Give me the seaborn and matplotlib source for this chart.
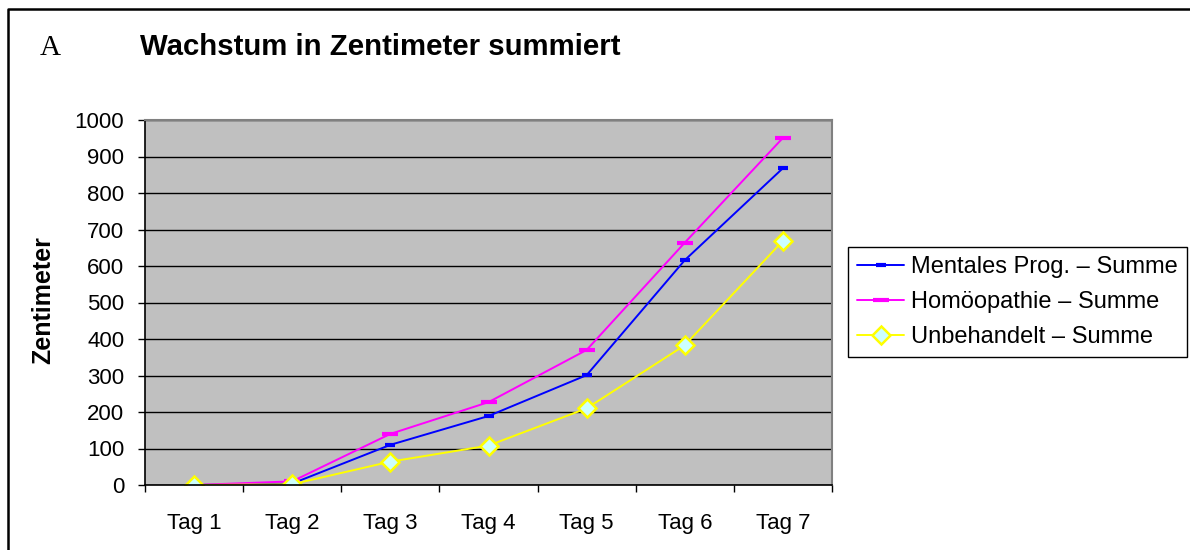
import matplotlib
matplotlib.use("Agg")
import matplotlib.pyplot as plt
import seaborn as sns
import pandas as pd
from matplotlib.lines import Line2D
from matplotlib.ticker import FixedLocator, NullFormatter, FixedFormatter

# ---- data ----
categories = ["Tag 1", "Tag 2", "Tag 3", "Tag 4", "Tag 5", "Tag 6", "Tag 7"]
mentales = [0, 4, 110, 189, 301, 616, 868]
homoeopathie = [0, 10, 140, 227, 370, 664, 951]
unbehandelt = [0, 2, 64, 108, 210, 383, 669]
series_names = ["Mentales Prog. – Summe", "Homöopathie – Summe", "Unbehandelt – Summe"]
y_ticks = list(range(0, 1001, 100))

sns.set_style("white")
plt.rcParams['font.family'] = ['Liberation Sans', 'DejaVu Sans']
plt.rcParams['text.color'] = 'black'
plt.rcParams['axes.labelcolor'] = 'black'
plt.rcParams['xtick.color'] = 'black'
plt.rcParams['ytick.color'] = 'black'

fig = plt.figure(figsize=(11.9, 5.5), dpi=100)
ax = fig.add_axes([145 / 1190, 1 - 485 / 550, 687 / 1190, 365 / 550])
ax.set_facecolor('#C0C0C0')

rows = []
for name, vals in zip(series_names, [mentales, homoeopathie, unbehandelt]):
    for i, v in enumerate(vals):
        rows.append({"pos": i, "value": v, "series": name})
df = pd.DataFrame(rows)

styles = {
    series_names[0]: dict(color='#0000FF', marker='_', markersize=7, markeredgewidth=3,
                          markeredgecolor='#0000FF'),
    series_names[1]: dict(color='#FF00FF', marker='_', markersize=11, markeredgewidth=3,
                          markeredgecolor='#FF00FF'),
    series_names[2]: dict(color='#FFFF00', marker='D', markersize=9, markeredgewidth=1.8,
                          markeredgecolor='#FFFF00', markerfacecolor='#CCFFFF'),
}
for name in series_names:
    sub = df[df["series"] == name]
    sns.lineplot(data=sub, x="pos", y="value", ax=ax, label=name, linewidth=1.4,
                 errorbar=None, **styles[name])

# axes
ax.set_xlim(-0.5, 6.5)
ax.set_ylim(0, 1000)
ax.set_yticks(y_ticks)
ax.yaxis.grid(True, color='black', linewidth=1)
ax.xaxis.grid(False)
ax.set_axisbelow(True)

ax.xaxis.set_major_locator(FixedLocator([i - 0.5 for i in range(8)]))
ax.xaxis.set_major_formatter(NullFormatter())
ax.xaxis.set_minor_locator(FixedLocator(list(range(len(categories)))))
ax.xaxis.set_minor_formatter(FixedFormatter(categories))
ax.tick_params(axis='x', which='major', bottom=True, direction='out', length=5, width=1, color='black')
ax.tick_params(axis='x', which='minor', bottom=True, length=0, pad=20, labelsize=16,
               labelcolor='black')
ax.tick_params(axis='y', which='major', left=True, direction='out', length=5, width=1,
               color='black', pad=10, labelsize=16, labelcolor='black')

for s in ['left', 'bottom']:
    ax.spines[s].set_color('black')
    ax.spines[s].set_linewidth(1.2)
for s in ['top', 'right']:
    ax.spines[s].set_color('#808080')
    ax.spines[s].set_linewidth(1.5)

ax.set_xlabel('')
ax.set_ylabel('Zentimeter', fontsize=18, fontweight='bold', color='black')
ax.yaxis.set_label_coords((55 - 145) / 687, 0.507)

# titles
fig.text(140 / 1190, 1 - 55 / 550, "Wachstum in Zentimeter summiert", fontsize=21.2,
         fontweight='bold', ha='left', va='baseline', color='black')
fig.text(40 / 1190, 1 - 55 / 550, "A", fontsize=21, family='Liberation Serif',
         ha='left', va='baseline', color='black')

# legend
handles, labels = ax.get_legend_handles_labels()
leg = ax.legend(handles, labels, loc='upper left', bbox_to_anchor=(848 / 1190, 1 - 247 / 550),
                bbox_transform=fig.transFigure, frameon=True, fancybox=False,
                edgecolor='black', fontsize=17, handlelength=2.0, borderaxespad=0,
                borderpad=0.38, labelspacing=0.55, handletextpad=0.3, framealpha=1)
leg.get_frame().set_linewidth(1)
for t in leg.get_texts():
    t.set_color('black')

# outer frame
fig.add_artist(Line2D([8 / 1190, 8 / 1190, 1.0], [0.0, 1 - 9 / 550, 1 - 9 / 550],
                      transform=fig.transFigure, color='black', linewidth=1.8))

fig.savefig("out.png", dpi=100)
